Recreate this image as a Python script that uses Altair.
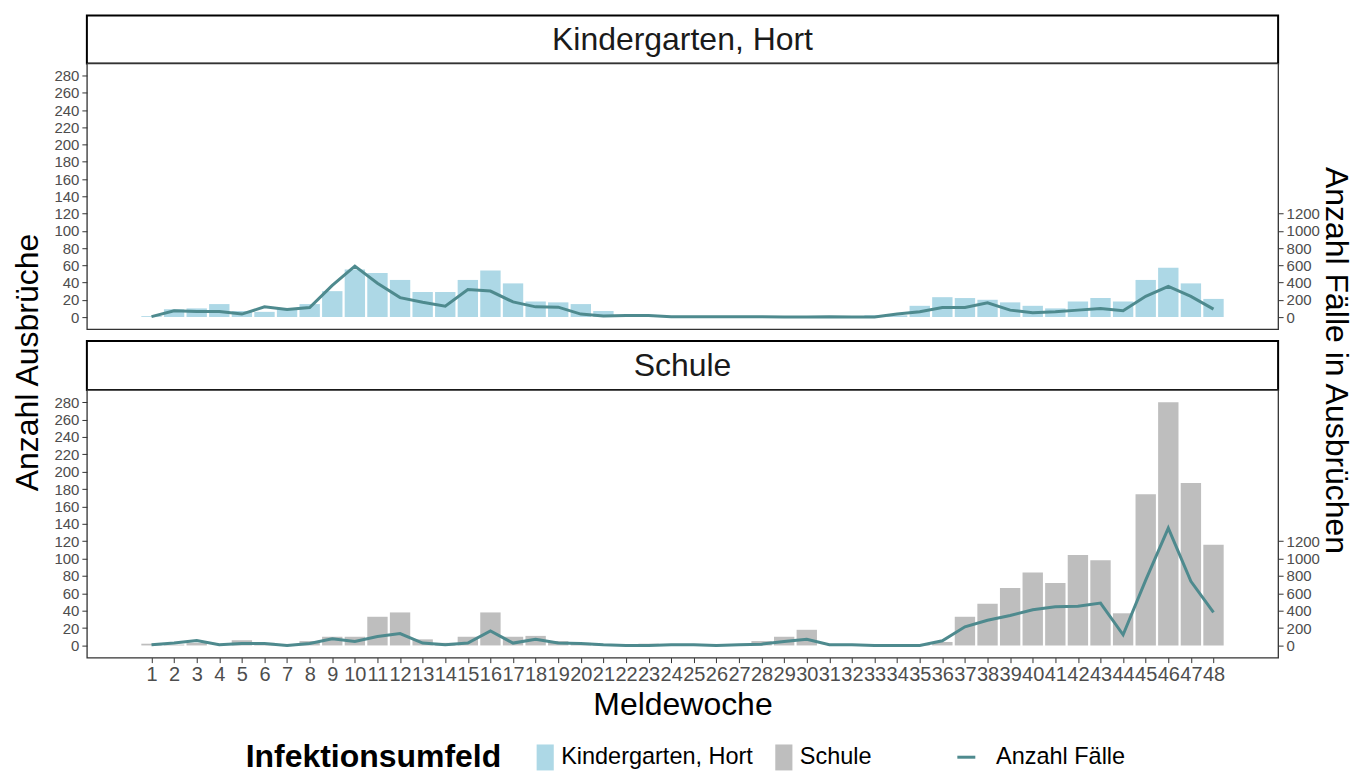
import altair as alt
import pandas as pd

# ---------------- data ----------------
weeks = list(range(1, 49))
settings = ["Kindergarten, Hort", "Schule"]
line_label = "Anzahl Fälle"

kita_outbreaks = [1, 9, 10, 15, 7, 6, 10, 15, 30, 55,
                  51, 43, 29, 29, 43, 54, 39, 18, 17, 15,
                  7, 1, 0, 0, 0, 0, 0, 0, 0, 0,
                  0, 0, 2, 2, 13, 23, 22, 20, 17, 13,
                  10, 18, 22, 18, 43, 57, 39, 21]
kita_cases = [5, 72, 65, 65, 34, 118, 88, 110, 366, 590,
              392, 225, 171, 126, 320, 301, 175, 118, 114, 34,
              11, 19, 19, 4, 4, 4, 4, 4, 0, 0,
              4, 0, 0, 34, 61, 110, 110, 164, 80, 50,
              61, 80, 99, 72, 240, 354, 240, 91]
schule_outbreaks = [2, 1, 3, 0, 6, 3, 0, 5, 10, 10,
                    33, 38, 7, 3, 10, 38, 10, 11, 5, 3,
                    1, 0, 2, 1, 0, 0, 0, 5, 10, 18,
                    0, 0, 0, 0, 1, 4, 33, 48, 66, 84,
                    72, 104, 98, 37, 174, 280, 187, 116]
schule_cases = [8, 27, 57, 8, 23, 23, 0, 23, 76, 46,
                103, 137, 27, 8, 27, 168, 27, 72, 27, 23,
                8, 0, 0, 8, 8, 0, 8, 15, 46, 72,
                8, 8, 0, 0, 0, 54, 215, 290, 345, 411,
                446, 452, 488, 123, 752, 1350, 738, 381]

y_ticks_left = list(range(0, 281, 20))
y_ticks_right = list(range(0, 1201, 200))

# ---------------- style ----------------
FONT = "Liberation Sans"
W = 1193
LINE_COLOR = "#4e8a8e"
BAR_COLORS = ["#ADD8E6", "#BEBEBE"]
LABEL_GREY = "#4D4D4D"
TICK_GREY = "#333333"
GAP = 12
KEY_PATH = "M-0.66,-1H0.66V1H-0.66Z"   # tall legend key like ggplot's
TICK_FS = 15

x_scale = alt.Scale(domain=[-1.86, 50.86], nice=False, zero=False, padding=0)
y_left_scale = alt.Scale(domain=[-14, 294], nice=False, zero=False, padding=0)
y_right_scale = alt.Scale(domain=[-140, 2940], nice=False, zero=False, padding=0)

fill_scale = alt.Scale(domain=settings, range=BAR_COLORS)
stroke_scale = alt.Scale(domain=[line_label], range=[LINE_COLOR])

LEG_Y = 730
fill_legend = alt.Legend(
    title="Infektionsumfeld", orient="none", legendX=159, legendY=LEG_Y,
    direction="horizontal", titleOrient="left", titleFont=FONT, titleFontSize=32,
    titleFontWeight="bold", titleColor="black", titlePadding=30, titleLimit=0,
    labelFont=FONT, labelFontSize=23.5, labelColor="black", labelOffset=3, labelLimit=0,
    symbolType=KEY_PATH, symbolSize=676, symbolStrokeWidth=0, symbolOpacity=1,
    columnPadding=17, padding=0,
)
stroke_legend = alt.Legend(
    title=None, orient="none", legendX=869, legendY=LEG_Y + 1, direction="horizontal",
    labelFont=FONT, labelFontSize=23.5, labelColor="black", labelOffset=18, labelLimit=0,
    symbolType="stroke", symbolSize=324, symbolStrokeWidth=3, padding=0,
)


def axis_left(title):
    kw = dict(values=y_ticks_left, format="d", labelFont=FONT, labelFontSize=TICK_FS,
              labelColor=LABEL_GREY, tickColor=TICK_GREY, tickSize=5, labelPadding=3,
              domain=False, grid=False, labelOverlap=False)
    if title:
        kw.update(title=title, titleFont=FONT, titleFontSize=32, titleFontWeight="normal",
                  titleColor="black", titleAngle=270, titleX=-59, titleY=299,
                  titleAlign="center", titleBaseline="middle", titleLimit=2000)
    else:
        kw.update(title=None)
    return alt.Axis(**kw)


def axis_right(title):
    kw = dict(orient="right", values=y_ticks_right, format="d", labelFont=FONT,
              labelFontSize=TICK_FS, labelColor=LABEL_GREY, tickColor=TICK_GREY, tickSize=5,
              labelPadding=3, domain=False, grid=False, labelOverlap=False)
    if title:
        kw.update(title=title, titleFont=FONT, titleFontSize=32, titleFontWeight="normal",
                  titleColor="black", titleAngle=90, titleX=57, titleY=297,
                  titleAlign="center", titleBaseline="middle", titleLimit=2000)
    else:
        kw.update(title=None)
    return alt.Axis(**kw)


x_axis_bottom = alt.Axis(values=weeks, format="d", title="Meldewoche", labelFont=FONT,
                         labelFontSize=20, labelColor=LABEL_GREY, tickColor=TICK_GREY,
                         tickSize=5, labelPadding=2, labelOverlap=False, labelFlush=False,
                         titleFont=FONT, titleFontSize=32, titleFontWeight="normal",
                         titleColor="black", titlePadding=5, domain=False, grid=False)


def strip(setting, h, gap):
    sdf = pd.DataFrame({"Umfeld": [setting]})
    box = alt.Chart(sdf).mark_rect(fill="white", stroke="black", strokeWidth=2).encode(
        x=alt.value(0), x2=alt.value(W), y=alt.value(gap), y2=alt.value(gap + h)
    )
    label = alt.Chart(sdf).mark_text(font=FONT, fontSize=32, color="#1a1a1a",
                                     baseline="middle").encode(
        text="Umfeld:N", x=alt.value(W / 2), y=alt.value(gap + h / 2)
    )
    return alt.layer(box, label).properties(
        width=W, height=gap + h,
        view=alt.ViewBackground(stroke="transparent", fill="transparent"),
    )


def panel(setting, outbreaks, cases, h, top):
    df = pd.DataFrame({"Meldewoche": weeks, "Ausbrueche": outbreaks, "Faelle": cases,
                       "Umfeld": setting, "Serie": line_label})
    xaxis = None if top else x_axis_bottom
    base = alt.Chart(df)
    bars = base.mark_bar(size=20.4).encode(
        x=alt.X("Meldewoche:Q", scale=x_scale, axis=xaxis),
        y=alt.Y("Ausbrueche:Q", scale=y_left_scale,
                axis=axis_left("Anzahl Ausbrüche" if top else None)),
        y2=alt.datum(0),
        fill=alt.Fill("Umfeld:N", scale=fill_scale, legend=fill_legend),
    )
    line = base.mark_line(strokeWidth=3).encode(
        x=alt.X("Meldewoche:Q", scale=x_scale, axis=xaxis),
        y=alt.Y("Faelle:Q", scale=y_right_scale,
                axis=axis_right("Anzahl Fälle in Ausbrüchen" if top else None)),
        stroke=alt.Stroke("Serie:N", scale=stroke_scale, legend=stroke_legend),
    )
    return alt.layer(bars, line).resolve_scale(y="independent").properties(
        width=W, height=h,
        view=alt.ViewBackground(stroke=TICK_GREY, strokeWidth=1.3, fill="white"),
    )


chart = alt.vconcat(
    strip(settings[0], 48, 0),
    panel(settings[0], kita_outbreaks, kita_cases, 266, True),
    strip(settings[1], 49, GAP),
    panel(settings[1], schule_outbreaks, schule_cases, 268, False),
    spacing=0, bounds="flush",
).resolve_scale(fill="shared", stroke="shared").properties(
    background="white",
    padding={"left": 3, "top": 5, "right": 3, "bottom": 3},
)

chart.save("out.html", embed_options={"renderer": "svg", "actions": False})
